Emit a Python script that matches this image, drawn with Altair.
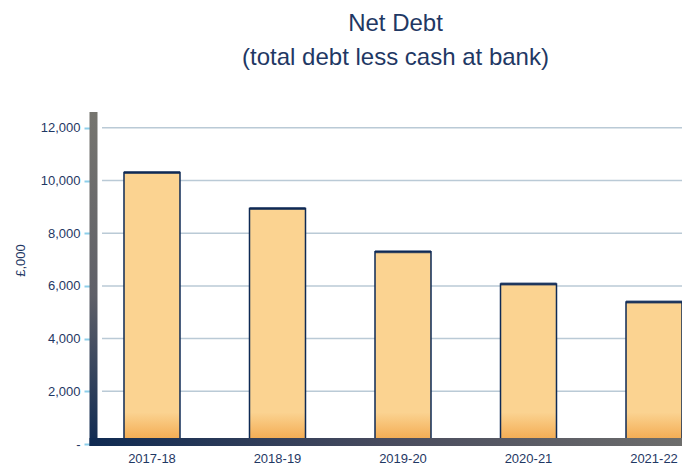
import altair as alt
import pandas as pd

periods = ["2017-18", "2018-19", "2019-20", "2020-21", "2021-22"]
net_debt = [10300, 8940, 7300, 6070, 5390]
y_ticks = [0, 2000, 4000, 6000, 8000, 10000, 12000]
grid_values = [2000, 4000, 6000, 8000, 10000, 12000]

df = pd.DataFrame({"period": periods, "debt": net_debt})
grid_df = pd.DataFrame({"v": grid_values})

W, H = 585, 332
NAVY = "#0E2A55"
TEXT = "#1F3864"
FONT = "Liberation Sans"

xscale = alt.Scale(domain=periods, range=[0, 612], paddingInner=0.5538, paddingOuter=0.2151)
yscale = alt.Scale(domain=[0, 12600], nice=False, zero=True)

xaxis = alt.Axis(title=None, labelAngle=0, domain=False, ticks=False,
                 labelPadding=8, labelFontSize=13, labelColor=TEXT, labelFont=FONT)
yaxis = alt.Axis(values=y_ticks, grid=False, domain=False,
                 labelExpr="datum.value == 0 ? '-' : format(datum.value, ',')",
                 tickColor="#8DCFEA", tickWidth=2, tickSize=6, offset=7,
                 labelPadding=4, labelFontSize=13, labelColor=TEXT, labelFont=FONT,
                 title="£,000", titleFont=FONT, titleFontSize=13,
                 titleFontWeight="normal", titleColor=TEXT, titleAngle=270,
                 titleX=-70, titleY=148, titleAlign="center", titleBaseline="middle")

x_enc = alt.X("period:N", scale=xscale, sort=periods, axis=xaxis)

grid = alt.Chart(grid_df).mark_rule(color="#BACAD6", strokeWidth=1.5).encode(
    y=alt.Y("v:Q", scale=yscale, axis=yaxis),
    x=alt.value(5), x2=alt.value(W),
)

bars = alt.Chart(df).mark_bar(fill="#FBD391", clip=True).encode(
    x=x_enc,
    y=alt.Y("debt:Q", scale=yscale, axis=yaxis),
)

bottom_grad = alt.Gradient(
    gradient="linear",
    stops=[alt.GradientStop(color="#FBD391", offset=0),
           alt.GradientStop(color="#F2A548", offset=1)],
    x1=0, x2=0, y1=0, y2=1,
)
bar_base = alt.Chart(df).mark_bar(fill=bottom_grad, clip=True).encode(
    x=x_enc,
    y=alt.YDatum(1200, scale=yscale, axis=yaxis),
    y2=alt.Y2Datum(0),
)

outline = alt.Chart(df).mark_bar(fillOpacity=0, stroke=NAVY, strokeWidth=1.5, clip=True).encode(
    x=x_enc,
    y=alt.Y("debt:Q", scale=yscale, axis=yaxis),
)

tops = alt.Chart(df).mark_tick(color=NAVY, thickness=3, size=56, clip=True).encode(
    x=x_enc,
    y=alt.Y("debt:Q", scale=yscale, axis=yaxis),
)

wall_grad = alt.Gradient(
    gradient="linear",
    stops=[alt.GradientStop(color="#76756F", offset=0),
           alt.GradientStop(color="#5F6068", offset=0.55),
           alt.GradientStop(color="#0F2A52", offset=1)],
    x1=0, x2=0, y1=0, y2=1,
)
wall = alt.Chart(alt.Data(values=[{}])).mark_rect(fill=wall_grad).encode(
    x=alt.value(-7.5), x2=alt.value(0.5), y=alt.value(0), y2=alt.value(H + 2),
)

floor_grad = alt.Gradient(
    gradient="linear",
    stops=[alt.GradientStop(color="#0F2A52", offset=0),
           alt.GradientStop(color="#484B5E", offset=0.5),
           alt.GradientStop(color="#6D6D6C", offset=1)],
    x1=0, x2=1, y1=0, y2=0,
)
floor = alt.Chart(alt.Data(values=[{}])).mark_rect(fill=floor_grad).encode(
    x=alt.value(-7.5), x2=alt.value(W), y=alt.value(H - 6), y2=alt.value(H + 2),
)

chart = alt.layer(grid, bars, bar_base, outline, tops, wall, floor).properties(
    width=W, height=H,
    background="white",
    title=alt.TitleParams(
        text=["Net Debt", "(total debt less cash at bank)"],
        font=FONT, fontSize=24, fontWeight="normal", color=TEXT,
        lineHeight=34, anchor="middle", offset=42, dx=6,
    ),
    padding={"left": 97, "top": 112, "right": 0, "bottom": 25},
    autosize=alt.AutoSizeParams(type="none"),
).configure_view(stroke=None)

chart.save("out.html", embed_options={"renderer": "svg", "actions": False})
